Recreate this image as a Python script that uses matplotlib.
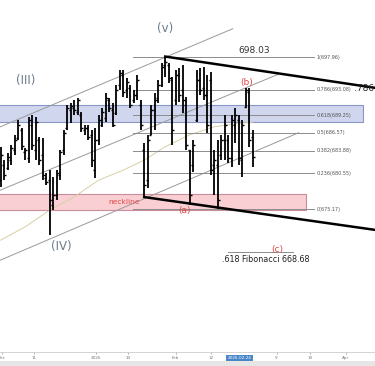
import matplotlib
matplotlib.use("Agg")
import matplotlib.pyplot as plt
from matplotlib.patches import Rectangle
import numpy as np

# ---- data (daily OHLC, bar index 0..72) ----
highs = [684.5,682.5,683.6,684.8,686.3,688.5,687.3,684.3,689.0,689.3,689.0,686.0,685.8,680.6,681.0,680.0,681.0,684.0,687.0,690.8,
         691.1,691.5,691.8,689.7,687.8,687.8,687.0,687.3,689.3,690.3,692.6,691.8,691.1,693.8,696.0,696.0,694.8,693.8,693.0,695.3,
         691.5,685.1,686.3,690.8,692.6,694.5,697.1,698.03,697.1,695.0,696.0,696.3,696.8,692.0,684.0,685.5,696.0,696.3,696.5,695.3,
         695.7,684.0,685.5,686.3,689.3,686.3,689.3,690.3,689.3,688.5,693.3,693.3,687.0]
lows = [678.5,679.5,681.0,681.8,683.3,685.5,684.0,682.5,682.1,684.0,682.5,681.8,679.5,678.8,671.2,675.0,676.5,679.5,683.3,687.0,
        688.1,689.3,689.3,686.7,686.3,685.5,681.5,679.8,684.8,687.5,688.2,689.7,687.5,689.3,693.0,692.0,691.8,690.3,691.1,691.5,
        687.0,677.0,678.3,686.3,687.0,691.1,693.5,695.0,694.1,684.8,690.8,691.2,689.6,684.0,675.8,680.7,688.2,692.3,691.5,686.6,
        680.3,677.3,675.17,682.5,682.5,682.1,681.5,685.1,681.8,680.0,690.3,684.5,681.5]
opens = [679.5,681.8,681.3,682.5,684.0,685.8,687.0,683.7,682.8,687.8,684.0,685.5,683.3,679.8,679.5,675.8,677.3,680.3,684.0,687.3,
         690.0,690.3,689.7,689.3,687.0,687.3,686.3,681.0,685.5,687.8,688.8,691.5,690.0,689.6,693.8,695.3,693.0,693.3,691.5,692.3,
         690.8,684.0,679.5,686.3,690.0,691.8,693.8,696.8,696.8,694.5,691.5,695.3,693.0,690.8,684.0,681.8,688.5,694.5,693.3,692.3,
         694.5,681.8,681.8,683.3,685.5,685.5,682.8,687.8,688.5,682.5,690.5,692.7,686.0]
closes = [683.3,680.3,683.0,684.3,685.5,687.8,684.6,684.0,688.5,684.8,688.2,682.5,680.3,679.2,676.5,677.3,680.6,683.7,686.6,690.3,
          690.6,690.0,691.5,687.3,687.3,686.0,682.5,685.5,688.5,689.7,691.8,690.3,687.8,693.0,695.6,692.7,694.2,690.8,692.3,694.5,
          687.8,678.8,685.5,690.0,691.5,693.8,696.5,697.2,694.8,687.0,695.3,692.3,691.5,684.8,677.3,684.8,694.5,693.0,692.3,687.8,
          681.0,682.5,676.5,685.5,687.8,682.8,688.5,689.3,682.8,687.8,693.0,685.5,683.0]

# moving average (thin curve)
ma_x = [0, 7, 14, 21, 28, 35, 41, 47, 54, 61, 68, 72]
ma_y = [670.5, 672.5, 675.0, 677.0, 679.5, 681.0, 682.5, 684.5, 686.3, 687.5, 688.0, 688.2]

# Fibonacci retracement
fib_ratios = ["1", "0.786", "0.618", "0.5", "0.382", "0.236", "0"]
fib_prices = [697.96, 693.08, 689.25, 686.57, 683.88, 680.55, 675.17]

# x-axis ticks
tick_pos = [0.3, 9.4, 27.1, 36.3, 50.0, 60.0, 78.8, 88.3, 98.6]
tick_labels = ["Dec", "11", "2026", "14", "Feb", "12", "9", "19", "Apr"]
cursor_pos, cursor_label = 68.3, "2026-02-24"

fig = plt.figure(figsize=(3.75, 3.66), dpi=100)
ax = fig.add_axes([0, 14/366, 1, 352/366])
ax.set_xlim(-0.2, 106.94)
ax.set_ylim(653.73, 706.51)

# zones
ax.add_patch(Rectangle((-1, 688.2), 104.4, 2.6, facecolor="#cfd6ee", edgecolor="#8a96c6", lw=0.8, zorder=1))
ax.add_patch(Rectangle((-1, 675.0), 88.1, 2.4, facecolor="#f9cfd3", edgecolor="#c98e9e", lw=0.8, zorder=1))

# channel lines
chan = [((-1, 687.3), (66.3, 702.2)), ((-1, 677.8), (79.4, 695.4)), ((-1, 667.3), (85.1, 686.6))]
for (x0, y0), (x1, y1) in chan:
    ax.plot([x0, x1], [y0, y1], color="#9a9a9a", lw=0.7, zorder=2)

# moving average
ax.plot(ma_x, ma_y, color="#d8cfa6", lw=0.7, zorder=2)

# fib lines
for r, p in zip(fib_ratios, fib_prices):
    ax.plot([37.7, 89.4], [p, p], color="#8c8c8c", lw=0.7, zorder=2)
    ax.text(90.3, p, f"{r}({p:.2f})", fontsize=3.5, color="#555555", va="center", ha="left", zorder=5)

# OHLC bars
idx = np.arange(len(highs))
ax.vlines(idx, lows, highs, color="black", lw=1.3, zorder=4)
ax.hlines(opens, idx - 0.6, idx, color="black", lw=1.0, zorder=4)
ax.hlines(closes, idx, idx + 0.6, color="black", lw=1.0, zorder=4)

# thick trendlines
ax.plot([47, 107.5], [698.03, 693.3], color="black", lw=1.8, zorder=3)
ax.plot([41, 107.5], [676.96, 672.0], color="black", lw=1.8, zorder=3)

# 0.618 fib target line
ax.plot([64.9, 83.4], [668.68, 668.68], color="#8c8c8c", lw=0.7, zorder=2)

# texts
wave_col = "#6b7b8c"
ax.text(47.1, 702.3, "(v)", fontsize=8.5, color=wave_col, ha="center", va="center")
ax.text(7.1, 694.4, "(III)", fontsize=8.5, color=wave_col, ha="center", va="center")
ax.text(17.4, 669.5, "(IV)", fontsize=8.5, color=wave_col, ha="center", va="center")
red = "#e04848"
ax.text(70.3, 694.2, "(b)", fontsize=6.5, color=red, ha="center", va="center", zorder=6)
ax.text(52.6, 674.9, "(a)", fontsize=6.5, color=red, ha="center", va="center", zorder=6)
ax.text(79.1, 669.1, "(c)", fontsize=6.5, color=red, ha="center", va="center", zorder=6)
ax.text(35.4, 676.2, "neckline", fontsize=5.4, color=red, ha="center", va="center", zorder=6)
ax.text(72.3, 698.9, "698.03", fontsize=6.5, color="#333333", ha="center", va="center")
ax.text(75.7, 667.6, ".618 Fibonacci 668.68", fontsize=5.8, color="#222222", ha="center", va="center")
ax.text(100.9, 693.3, ".786 fib", fontsize=6.5, color="#222222", ha="left", va="center")

# axes styling
for s in ["top", "left", "right"]:
    ax.spines[s].set_visible(False)
ax.spines["bottom"].set_color("#cccccc")
ax.spines["bottom"].set_linewidth(0.6)
ax.set_yticks([])
ax.set_xticks(tick_pos)
ax.set_xticklabels(tick_labels)
ax.tick_params(axis="x", labelsize=3, colors="#777777", length=1.5, width=0.4, pad=1.2)
ax.annotate(cursor_label, xy=(cursor_pos, 0), xycoords=("data", "axes fraction"),
            xytext=(0, -4.6), textcoords="offset points", ha="center", va="center",
            fontsize=3, color="white",
            bbox=dict(boxstyle="square,pad=0.35", fc="#4a86c8", ec="none"), annotation_clip=False)

# bottom grey band
fig.patches.append(Rectangle((0, 0), 1, 5.3/366, transform=fig.transFigure, facecolor="#e6e6e6", edgecolor="none"))

fig.savefig("out.png", dpi=100)
